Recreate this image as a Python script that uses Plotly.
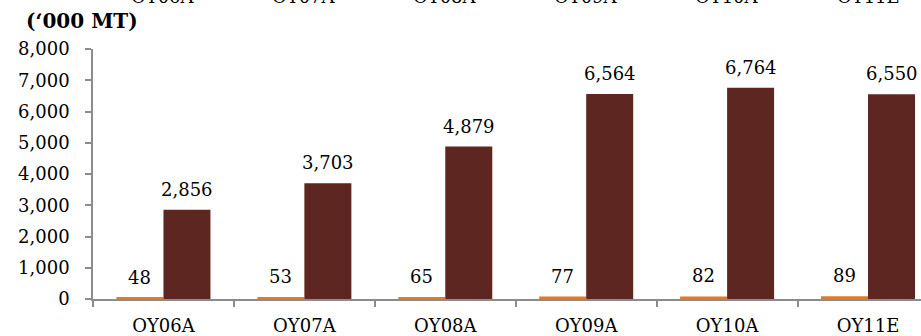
import plotly.graph_objects as go

categories = ["OY06A", "OY07A", "OY08A", "OY09A", "OY10A", "OY11E"]
series_a = [48, 53, 65, 77, 82, 89]
series_b = [2856, 3703, 4879, 6564, 6764, 6550]
y_ticks = [0, 1000, 2000, 3000, 4000, 5000, 6000, 7000, 8000]

FONT = "DejaVu Serif"
ORANGE = "#E07B27"
MAROON = "#5E2621"
GREY = "#8C8C8C"

fig = go.Figure()
fig.add_trace(go.Bar(x=categories, y=series_a, marker_color=ORANGE,
                     marker_line_width=0, name="A"))
fig.add_trace(go.Bar(x=categories, y=series_b, marker_color=MAROON,
                     marker_line_width=0, name="B"))

ann = []
for i, (a, b) in enumerate(zip(series_a, series_b)):
    ann.append(dict(x=i - 0.1667, y=a, xref="x", yref="y", text=f"{a:,}",
                    showarrow=False, yanchor="bottom", yshift=8,
                    font=dict(family=FONT, size=18, color="#000")))
    ann.append(dict(x=i + 0.1667, y=b, xref="x", yref="y", text=f"{b:,}",
                    showarrow=False, yanchor="bottom", yshift=8,
                    font=dict(family=FONT, size=18, color="#000")))
# clipped labels of the chart above (only their lower part is visible)
for i, c in enumerate(categories):
    ann.append(dict(x=i, y=1, xref="x", yref="paper", text=c,
                    showarrow=False, yanchor="bottom", yshift=40,
                    font=dict(family=FONT, size=18, color="#000")))
ann.append(dict(x=0, y=1, xref="paper", yref="paper", text="<b>(‘000 MT)</b>",
                showarrow=False, xanchor="left", yanchor="bottom",
                xshift=-69, yshift=14,
                font=dict(family=FONT, size=20, color="#000")))

fig.update_layout(
    width=921, height=336,
    margin=dict(l=93, r=0, t=49, b=37),
    paper_bgcolor="white", plot_bgcolor="white",
    barmode="group", bargap=0.333, bargroupgap=0,
    showlegend=False,
    annotations=ann,
    font=dict(family=FONT, size=18, color="#000"),
)
fig.update_xaxes(
    type="category", range=[-0.5, 5.376],
    showline=True, linecolor=GREY, linewidth=1.5,
    ticks="outside", tickson="boundaries", ticklen=6, tickcolor=GREY, tickwidth=1.5,
    showgrid=False, zeroline=False,
    tickfont=dict(family=FONT, size=18, color="#000"),
    ticklabelstandoff=10,
)
fig.update_yaxes(
    range=[0, 8000], tickvals=y_ticks, tickformat=",d",
    showline=True, linecolor=GREY, linewidth=1.5,
    ticks="outside", ticklen=6, tickcolor=GREY, tickwidth=1.5,
    showgrid=False, zeroline=False,
    tickfont=dict(family=FONT, size=18, color="#000"),
    ticklabelstandoff=12,
)

fig.write_html("out.html")
